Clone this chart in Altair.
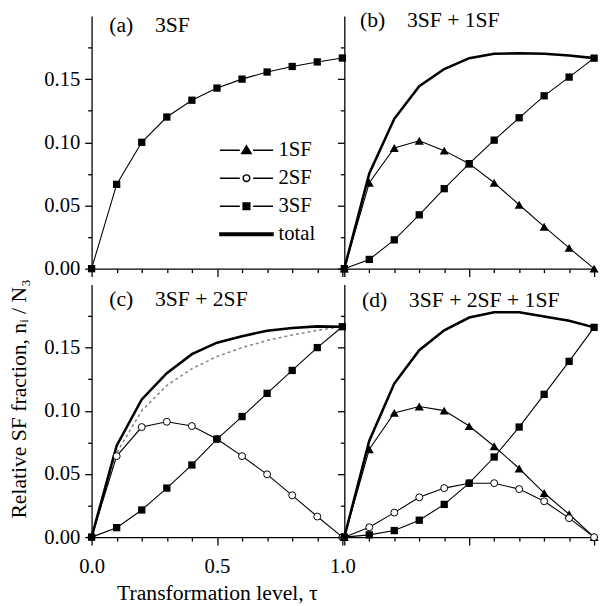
import altair as alt
import pandas as pd

# ---------------- data ----------------
tau = [0.0, 0.1, 0.2, 0.3, 0.4, 0.5, 0.6, 0.7, 0.8, 0.9, 1.0]

a_3sf = [0.0, 0.0667, 0.1000, 0.1200, 0.1333, 0.1429, 0.1500, 0.1556, 0.1600, 0.1636, 0.1667]

b_1sf = [0.0, 0.0680, 0.0955, 0.1012, 0.0934, 0.0831, 0.0680, 0.0506, 0.0332, 0.0164, 0.0]
b_3sf = [0.0, 0.0073, 0.0228, 0.0426, 0.0633, 0.0831, 0.1017, 0.1194, 0.1368, 0.1516, 0.1666]
b_total = [0.0, 0.0753, 0.1186, 0.1444, 0.1580, 0.1666, 0.1700, 0.1705, 0.1700, 0.1687, 0.1666]

c_2sf = [0.0, 0.0641, 0.0871, 0.0913, 0.0879, 0.0776, 0.0641, 0.0497, 0.0331, 0.0163, 0.0]
c_3sf = [0.0, 0.0075, 0.0215, 0.0388, 0.0571, 0.0776, 0.0954, 0.1138, 0.1319, 0.1500, 0.1665]
c_total = [0.0, 0.0724, 0.1090, 0.1298, 0.1448, 0.1539, 0.1590, 0.1634, 0.1655, 0.1668, 0.1665]

d_1sf = [0.0, 0.0695, 0.0983, 0.1034, 0.1001, 0.0879, 0.0719, 0.0543, 0.0349, 0.0181, 0.0]
d_2sf = [0.0, 0.0078, 0.0194, 0.0315, 0.0388, 0.0427, 0.0427, 0.0380, 0.0284, 0.0150, 0.0]
d_3sf = [0.0, 0.0018, 0.0052, 0.0134, 0.0259, 0.0427, 0.0634, 0.0871, 0.1130, 0.1391, 0.1660]
d_total = [0.0, 0.0763, 0.1215, 0.1479, 0.1637, 0.1738, 0.1779, 0.1779, 0.1746, 0.1712, 0.1660]

legend_series = ["1SF", "2SF", "3SF", "total"]
panel_labels = ["(a)\u00a0\u00a0\u00a0\u00a03SF",
                "(b)\u00a0\u00a0\u00a0\u00a03SF + 1SF",
                "(c)\u00a0\u00a0\u00a0\u00a03SF + 2SF",
                "(d)\u00a0\u00a0\u00a0\u00a03SF + 2SF + 1SF"]
x_title = "Transformation level, \u03c4"
y_title = "Relative SF fraction, n\u1d62 / N\u2083"

# ---------------- styling ----------------
FONT = "Liberation Serif"
W_L, W_R, H = 255, 254, 257
x_ticks = [round(i * 0.1, 1) for i in range(11)]
y_ticks = [round(i * 0.025, 3) for i in range(8)]


def x_enc(labels, title, key):
    kw = dict(
        values=x_ticks,
        labels=labels,
        labelExpr="(abs(round(datum.value*10)) % 5 == 0) ? format(datum.value, '.1f') : ''",
        tickSize={"condition": {"test": "abs(round(datum.value*10)) % 5 == 0", "value": 8}, "value": 4},
        labelPadding=11,
        labelFlush=False,
        labelOverlap=False,
        titlePadding=6,
    )
    sc = alt.Scale(domain=[0, 1], nice=False, zero=False)
    if title:
        return alt.X(key + ":Q", scale=sc, axis=alt.Axis(title=title, **kw))
    return alt.X(key + ":Q", scale=sc, axis=alt.Axis(title=None, **kw))


def y_enc(labels, title, key):
    kw = dict(
        values=y_ticks,
        labels=labels,
        labelExpr="(abs(round(datum.value*1000)) % 50 == 0) ? format(datum.value, '.2f') : ''",
        tickSize={"condition": {"test": "abs(round(datum.value*1000)) % 50 == 0", "value": 7}, "value": 4},
        labelPadding=5,
        labelFlush=False,
        labelOverlap=False,
        titlePadding=13,
    )
    sc = alt.Scale(domain=[0, 0.2], nice=False)
    if title:
        return alt.Y(key + ":Q", scale=sc, axis=alt.Axis(title=title, titleY=116, **kw))
    return alt.Y(key + ":Q", scale=sc, axis=alt.Axis(title=None, **kw))


def panel(series, label, lab_dx, lab_dy, width, xlab, ylab, key, xt=None, yt=None, legend=False):
    xk, yk = "tau_" + key, "v_" + key
    X = x_enc(xlab, xt, xk)
    Y = y_enc(ylab, yt, yk)
    lines, points = [], []
    for vals, kind in series:
        df = pd.DataFrame({xk: tau, yk: vals})
        base = alt.Chart(df).encode(x=X, y=Y)
        if kind == "total":
            lines.append(base.mark_line(color="black", strokeWidth=2.6))
        elif kind == "dash":
            lines.append(base.mark_line(color="#8a8a8a", strokeWidth=1.6, strokeDash=[3, 3]))
        else:
            lines.append(base.mark_line(color="black", strokeWidth=1.1))
            if kind == "1SF":
                points.append(base.mark_point(shape="triangle-up", filled=True, color="black", size=85, opacity=1))
            elif kind == "2SF":
                points.append(base.mark_point(shape="circle", filled=True, fill="white", stroke="black",
                                              strokeWidth=1, size=50, opacity=1))
            else:
                points.append(base.mark_point(shape="square", filled=True, color="black", size=55, opacity=1))
    txt = alt.Chart(pd.DataFrame({"t": [label]})).mark_text(
        align="left", baseline="middle", font=FONT, fontSize=22, color="black"
    ).encode(text="t:N", x=alt.value(lab_dx), y=alt.value(lab_dy))
    layers = lines + points + [txt]
    if legend:
        seg = "M-2,0H-0.5M0.5,0H2"
        shapes = [
            seg + "M0,-0.33L0.35,0.26L-0.35,0.26Z",
            seg + "M0.25,0A0.25,0.25 0 1,1 -0.25,0A0.25,0.25 0 1,1 0.25,0Z",
            seg + "M-0.25,-0.25H0.25V0.25H-0.25Z",
            "M-2,-0.1H2V0.1H-2Z",
        ]
        lg = dict(orient="none", legendX=143, legendY=122, title=None)
        leg = alt.Chart(pd.DataFrame({"s": legend_series})).transform_filter("false").mark_point(
            filled=True).encode(
            shape=alt.Shape("s:N", scale=alt.Scale(domain=legend_series, range=shapes),
                            legend=alt.Legend(labelFont=FONT, labelFontSize=21, labelColor="black",
                                              symbolSize=729, symbolOpacity=1, labelOffset=18,
                                              rowPadding=3.5, padding=0, **lg)),
            fill=alt.Fill("s:N", scale=alt.Scale(domain=legend_series,
                                                range=["black", "white", "black", "black"]),
                          legend=alt.Legend(**lg)),
            stroke=alt.Stroke("s:N", scale=alt.Scale(domain=legend_series,
                                                    range=["black", "black", "black", "black"]),
                              legend=alt.Legend(**lg)),
        )
        layers.append(leg)
    return alt.layer(*layers).properties(width=width, height=H)


pa = panel([(a_3sf, "3SF")], panel_labels[0], 18, 9, W_L, False, True, "a", legend=True)
pb = panel([(b_total, "total"), (b_1sf, "1SF"), (b_3sf, "3SF")], panel_labels[1], 16, 4, W_R, False, False, "b")
pc = panel([(a_3sf, "dash"), (c_total, "total"), (c_2sf, "2SF"), (c_3sf, "3SF")], panel_labels[2], 18, 15,
           W_L, True, True, "c", xt=x_title, yt=y_title)
pd_ = panel([(d_total, "total"), (d_1sf, "1SF"), (d_2sf, "2SF"), (d_3sf, "3SF")], panel_labels[3], 18, 16,
            W_R, False, False, "d")

chart = alt.concat(pa, pb, pc, pd_, columns=2, spacing={"row": 16, "column": 2}, bounds="flush").properties(
    padding={"left": 0, "top": -4, "right": 0, "bottom": 0},
    background="white",
).configure_view(stroke=None).configure_axis(
    grid=False,
    domainColor="black",
    domainWidth=1.3,
    tickColor="black",
    tickWidth=1.3,
    labelFont=FONT,
    labelFontSize=21,
    labelColor="black",
    titleFont=FONT,
    titleFontSize=22,
    titleFontWeight="normal",
    titleColor="black",
)

chart.save("out.html", embed_options={"renderer": "svg", "actions": False})
